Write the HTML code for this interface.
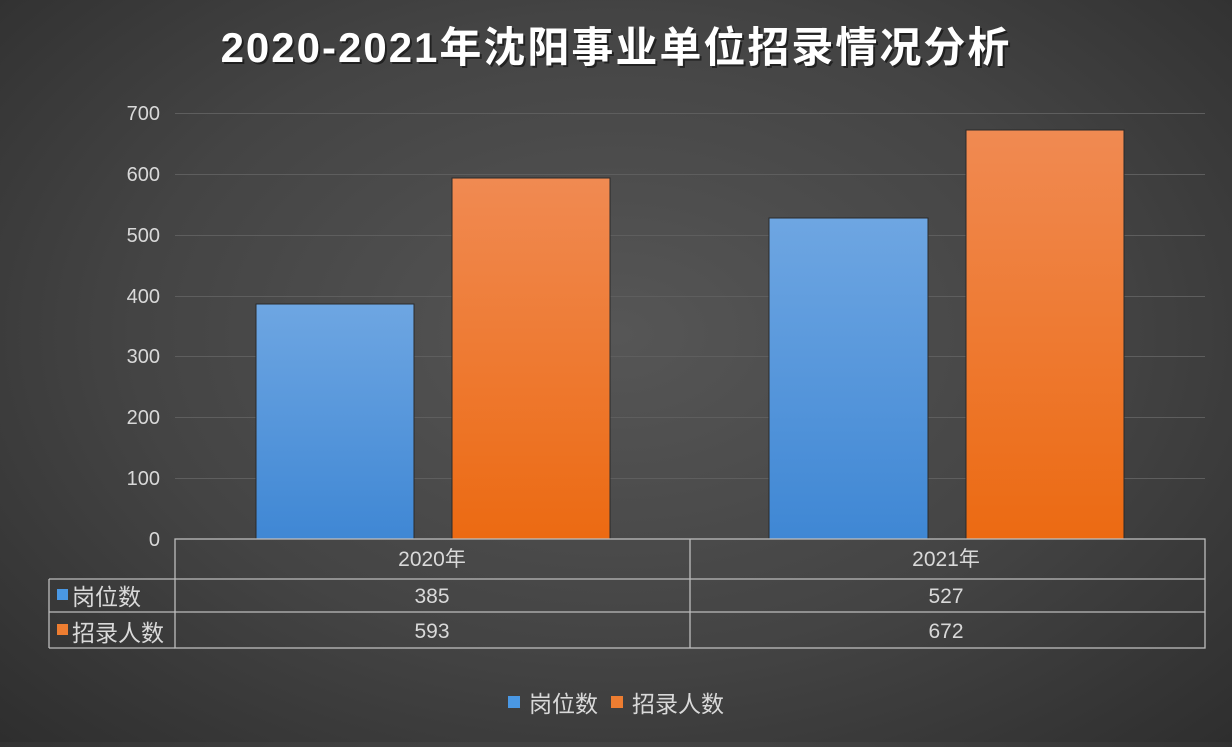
<!DOCTYPE html>
<html><head><meta charset="utf-8"><style>
html,body{margin:0;padding:0;}
body{width:1232px;height:742px;overflow:hidden;background:radial-gradient(ellipse at 50% 45%,#565656 0%,#444 55%,#2e2e2e 100%);}
svg text{font-family:"Liberation Sans","Noto Sans CJK SC",sans-serif;}
</style></head><body>
<svg width="1232" height="742" xmlns="http://www.w3.org/2000/svg">
<defs>
<linearGradient id="b" x1="0" y1="0" x2="0" y2="1"><stop offset="0" stop-color="#6ea6e2"/><stop offset="1" stop-color="#3f87d4"/></linearGradient>
<linearGradient id="o" x1="0" y1="0" x2="0" y2="1"><stop offset="0" stop-color="#f08a52"/><stop offset="1" stop-color="#ec6a12"/></linearGradient>
</defs>
<text x="618" y="64" text-anchor="middle" font-size="42" font-weight="bold" letter-spacing="2" fill="#000" opacity="0.5">2020-2021年沈阳事业单位招录情况分析</text>
<text x="616" y="62" text-anchor="middle" font-size="42" font-weight="bold" letter-spacing="2" fill="#fff">2020-2021年沈阳事业单位招录情况分析</text>
<g stroke="#5e5e5e" stroke-width="1">
<line x1="175" x2="1205" y1="113.5" y2="113.5"/><line x1="175" x2="1205" y1="174.5" y2="174.5"/>
<line x1="175" x2="1205" y1="235.5" y2="235.5"/><line x1="175" x2="1205" y1="296.5" y2="296.5"/>
<line x1="175" x2="1205" y1="356.5" y2="356.5"/><line x1="175" x2="1205" y1="417.5" y2="417.5"/>
<line x1="175" x2="1205" y1="478.5" y2="478.5"/>
</g>
<g font-size="20" fill="#d9d9d9" text-anchor="end">
<text x="160" y="120">700</text><text x="160" y="181">600</text><text x="160" y="242">500</text>
<text x="160" y="303">400</text><text x="160" y="363">300</text><text x="160" y="424">200</text>
<text x="160" y="485">100</text><text x="160" y="546">0</text>
</g>
<g stroke="#2a2a2a" stroke-width="1">
<rect x="256" y="304" width="158" height="235" fill="url(#b)"/>
<rect x="452" y="178" width="158" height="361" fill="url(#o)"/>
<rect x="769" y="218" width="159" height="321" fill="url(#b)"/>
<rect x="966" y="130" width="158" height="409" fill="url(#o)"/>
</g>
<g stroke="#bdbdbd" stroke-width="1.3" fill="none">
<rect x="175" y="539" width="1030" height="109"/>
<line x1="49" x2="1205" y1="579" y2="579"/><line x1="49" x2="1205" y1="612" y2="612"/>
<line x1="49" x2="49" y1="579" y2="648"/><line x1="49" x2="175" y1="648" y2="648"/>
<line x1="690" x2="690" y1="539" y2="648"/>
</g>
<g font-size="21" fill="#d9d9d9">
<text x="432" y="566" text-anchor="middle">2020年</text><text x="946" y="566" text-anchor="middle">2021年</text>
<text x="432" y="603" text-anchor="middle">385</text><text x="946" y="603" text-anchor="middle">527</text>
<text x="432" y="638" text-anchor="middle">593</text><text x="946" y="638" text-anchor="middle">672</text>
</g>
<g font-size="23" fill="#d9d9d9">
<rect x="57" y="589" width="11" height="11" fill="#4a98e4"/><text x="72" y="605">岗位数</text>
<rect x="57" y="624" width="11" height="11" fill="#ed7d31"/><text x="72" y="641">招录人数</text>
<rect x="508" y="696" width="12" height="12" fill="#4a98e4"/><text x="529" y="712">岗位数</text>
<rect x="611" y="696" width="12" height="12" fill="#ed7d31"/><text x="632" y="712">招录人数</text>
</g>
</svg>
</body></html>
